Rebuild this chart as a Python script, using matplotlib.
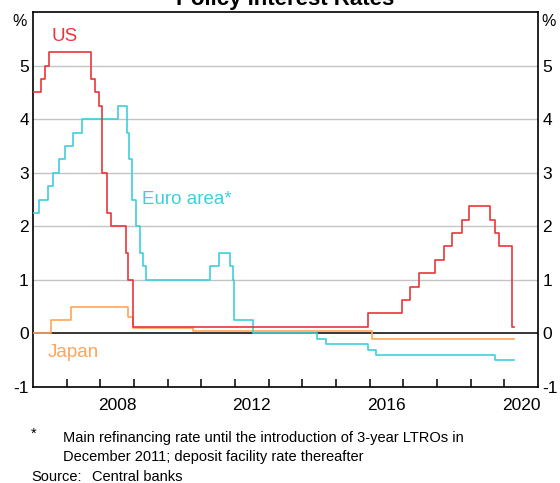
import matplotlib.pyplot as plt

plt.rcParams['font.family'] = ['Liberation Sans', 'DejaVu Sans']

# Leitzinsen (Stufenwerte), Zeit in Dezimaljahren
us_zeit = [2006.0, 2006.24, 2006.36, 2006.49, 2007.71, 2007.83, 2007.95, 2008.06,
           2008.21, 2008.33, 2008.77, 2008.83, 2008.96, 2015.96, 2016.95, 2017.21,
           2017.46, 2017.95, 2018.21, 2018.45, 2018.74, 2018.96, 2019.58, 2019.72,
           2019.83, 2020.22, 2020.3]
us_zins = [4.5, 4.75, 5.0, 5.25, 4.75, 4.5, 4.25, 3.0,
           2.25, 2.0, 1.5, 1.0, 0.125, 0.375, 0.625, 0.875,
           1.125, 1.375, 1.625, 1.875, 2.125, 2.375, 2.125, 1.875,
           1.625, 0.125, 0.125]

euro_zeit = [2006.0, 2006.18, 2006.45, 2006.6, 2006.78, 2006.94, 2007.2, 2007.45,
             2008.52, 2008.78, 2008.86, 2008.94, 2009.05, 2009.19, 2009.27, 2009.37,
             2011.27, 2011.53, 2011.85, 2011.93, 2011.96, 2012.53, 2014.44, 2014.69,
             2015.95, 2016.2, 2019.71, 2020.3]
euro_zins = [2.25, 2.5, 2.75, 3.0, 3.25, 3.5, 3.75, 4.0,
             4.25, 3.75, 3.25, 2.5, 2.0, 1.5, 1.25, 1.0,
             1.25, 1.5, 1.25, 1.0, 0.25, 0.0, -0.1, -0.2,
             -0.3, -0.4, -0.5, -0.5]

japan_zeit = [2006.0, 2006.54, 2007.14, 2008.83, 2008.97, 2010.76, 2016.08, 2020.3]
japan_zins = [0.0, 0.25, 0.5, 0.3, 0.1, 0.05, -0.1, -0.1]

jahr_ticks = list(range(2007, 2021))
jahr_labels = ['2008', '2012', '2016', '2020']
y_ticks = [-1, 0, 1, 2, 3, 4, 5]

rot = '#e8363b'
tuerkis = '#3dd0dc'
orange = '#ffa45a'

fig = plt.figure(figsize=(5.6, 4.83), dpi=100)
ax = fig.add_axes([33 / 560, 1 - 387 / 483, 505 / 560, 375 / 483])

# Gitterlinien und Nulllinie
for y in [1, 2, 3, 4, 5]:
    ax.axhline(y, color='#c4c4c4', linewidth=1.0, zorder=1)
ax.axhline(0, color='black', linewidth=1.1, zorder=2)

ax.plot(japan_zeit, japan_zins, drawstyle='steps-post', color=orange, linewidth=1.2, zorder=3)
ax.plot(euro_zeit, euro_zins, drawstyle='steps-post', color=tuerkis, linewidth=1.2, zorder=4)
ax.plot(us_zeit, us_zins, drawstyle='steps-post', color=rot, linewidth=1.2, zorder=5)

ax.set_xlim(2006, 2021)
ax.set_ylim(-1, 6)

# x-Achse: Striche an jedem Jahr, Beschriftung mittig im Jahr
ax.set_xticks(jahr_ticks)
ax.set_xticklabels([])
ax.set_xticks([int(j) + 0.5 for j in jahr_labels], minor=True)
ax.set_xticklabels(jahr_labels, minor=True, fontsize=12.5)
ax.tick_params(axis='x', which='major', direction='in', length=6, width=1.1, color='black')
ax.tick_params(axis='x', which='minor', length=0, pad=8)

# y-Achse beidseitig
ax.set_yticks(y_ticks)
ax.set_yticklabels([str(v) for v in y_ticks], fontsize=12.5)
ax.tick_params(axis='y', length=0, pad=3, labelleft=True, labelright=True, left=False, right=False)

for s in ax.spines.values():
    s.set_linewidth(1.2)
    s.set_color('black')

ax.text(-0.012, 5.83, '%', transform=ax.get_yaxis_transform(), ha='right', va='center', fontsize=11.5)
ax.text(1.006, 5.83, '%', transform=ax.get_yaxis_transform(), ha='left', va='center', fontsize=11.5)

# Serienbeschriftungen
ax.text(2006.55, 5.55, 'US', color=rot, fontsize=13.5, va='center')
ax.text(2009.25, 2.5, 'Euro area*', color=tuerkis, fontsize=13.5, va='center')
ax.text(2006.45, -0.36, 'Japan', color=orange, fontsize=13.5, va='center')

# Titel (oben abgeschnitten)
fig.text(285.5 / 560, 1 - 5 / 483, 'Policy Interest Rates', ha='center', va='baseline',
         fontsize=16, fontweight='bold')

# Fussnoten
fig.text(31 / 560, 1 - 438 / 483, '*', fontsize=10.5, va='baseline')
fig.text(63 / 560, 1 - 442 / 483, 'Main refinancing rate until the introduction of 3-year LTROs in',
         fontsize=10.5, va='baseline')
fig.text(63 / 560, 1 - 461 / 483, 'December 2011; deposit facility rate thereafter',
         fontsize=10.5, va='baseline')
fig.text(31 / 560, 1 - 481 / 483, 'Source:', fontsize=10.5, va='baseline')
fig.text(92 / 560, 1 - 481 / 483, 'Central banks', fontsize=10.5, va='baseline')

fig.savefig('out.png', dpi=100)
